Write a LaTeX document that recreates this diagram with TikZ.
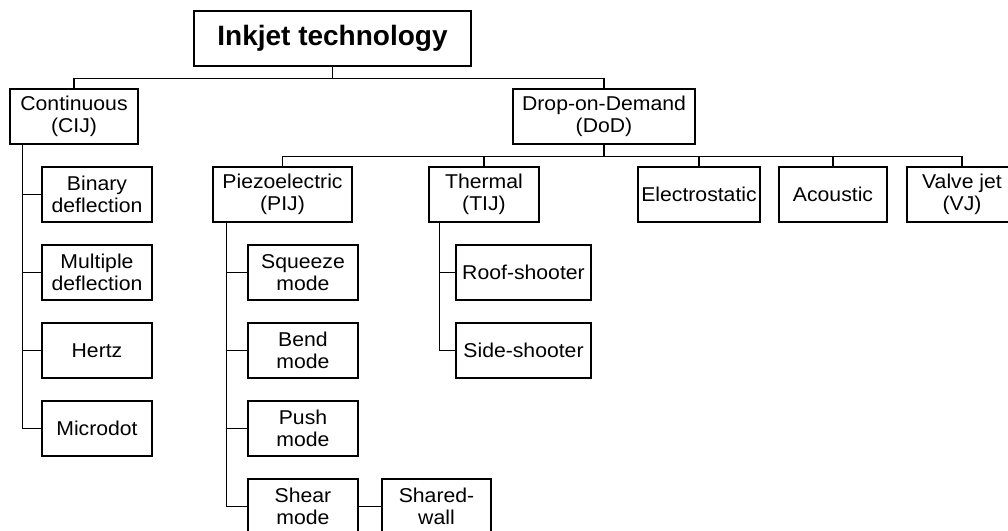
\documentclass[tikz,border=0pt]{standalone}
\usepackage{fontspec}
\setmainfont{Liberation Sans}
\newfontfamily\boxfont{Liberation Sans}[FakeStretch=1.06]
\usetikzlibrary{math}
\tikzset{
  box/.style={draw, line width=1.1pt, align=center, inner sep=0pt,
    minimum height=55pt, font=\boxfont\fontsize{20}{21.5}\selectfont},
  trunk/.style={line width=1.8pt},
  branch/.style={line width=1.1pt}
}

\begin{document}
\begin{tikzpicture}[x=1pt,y=-1pt]
\tikzmath{
\D=12;
}
\useasboundingbox (0,0) rectangle (1008,530);

% top levels
\node[box, minimum width=277pt, font=\fontsize{28}{30}\selectfont\bfseries] (root) at (332.5,38.5) {Inkjet technology};
\node[box, minimum width=128pt] (cij) at (74,116.5) {Continuous\\(CIJ)};
\node[box, minimum width=182pt] (dod) at (604,116.5) {Drop-on-Demand\\(DoD)};

\draw[branch] (root.south) -- ++(0,\D) -| (cij.north);
\draw[branch] (root.south) -- ++(0,\D) -| (dod.north);

% continuous
\node[box, minimum width=110pt] (bin) at (97,194.5) {Binary\\deflection};
\node[box, minimum width=110pt] (mult) at (97,272.5) {Multiple\\deflection};
\node[box, minimum width=110pt] (hertz) at (97,350.5) {Hertz};
\node[box, minimum width=110pt] (mdot) at (97,428.5) {Microdot};

\coordinate (cijtrunk) at ([xshift=13pt]cij.south west);
\draw[trunk] (cijtrunk) |- (mdot.west);
\foreach \n in {bin,mult,hertz}
  \draw[branch] (cijtrunk |- \n.west) -- (\n.west);

% drop-on-demand
\node[box, minimum width=139pt] (pij) at (282.5,194.5) {Piezoelectric\\(PIJ)};
\node[box, minimum width=110pt] (tij) at (484,194.5) {Thermal\\(TIJ)};
\node[box, minimum width=122pt] (elec) at (699,194.5) {Electrostatic};
\node[box, minimum width=108pt] (acou) at (833,194.5) {Acoustic};
\node[box, minimum width=110pt] (valve) at (962,194.5) {Valve jet\\(VJ)};

\foreach \n in {pij,tij,elec,acou,valve}
  \draw[branch] (dod.south) -- ++(0,\D) -| (\n.north);

% piezoelectric
\node[box, minimum width=110pt] (squeeze) at (303,272.5) {Squeeze\\mode};
\node[box, minimum width=110pt] (bend) at (303,350.5) {Bend\\mode};
\node[box, minimum width=110pt] (push) at (303,428.5) {Push\\mode};
\node[box, minimum width=110pt] (shear) at (303,506.5) {Shear\\mode};
\node[box, minimum width=109pt] (shared) at (436.5,506.5) {Shared-\\wall};

\coordinate (pijtrunk) at ([xshift=14pt]pij.south west);
\draw[trunk] (pijtrunk) |- (shear.west);
\foreach \n in {squeeze,bend,push}
  \draw[branch] (pijtrunk |- \n.west) -- (\n.west);
\draw[branch] (shear) -- (shared);

% thermal
\node[box, minimum width=135pt] (roof) at (523.5,272.5) {Roof-shooter};
\node[box, minimum width=135pt] (side) at (523.5,350.5) {Side-shooter};

\coordinate (tijtrunk) at ([xshift=11pt]tij.south west);
\draw[branch] (tijtrunk) |- (side.west);
\draw[branch] (tijtrunk |- roof.west) -- (roof.west);

\end{tikzpicture}
\end{document}
